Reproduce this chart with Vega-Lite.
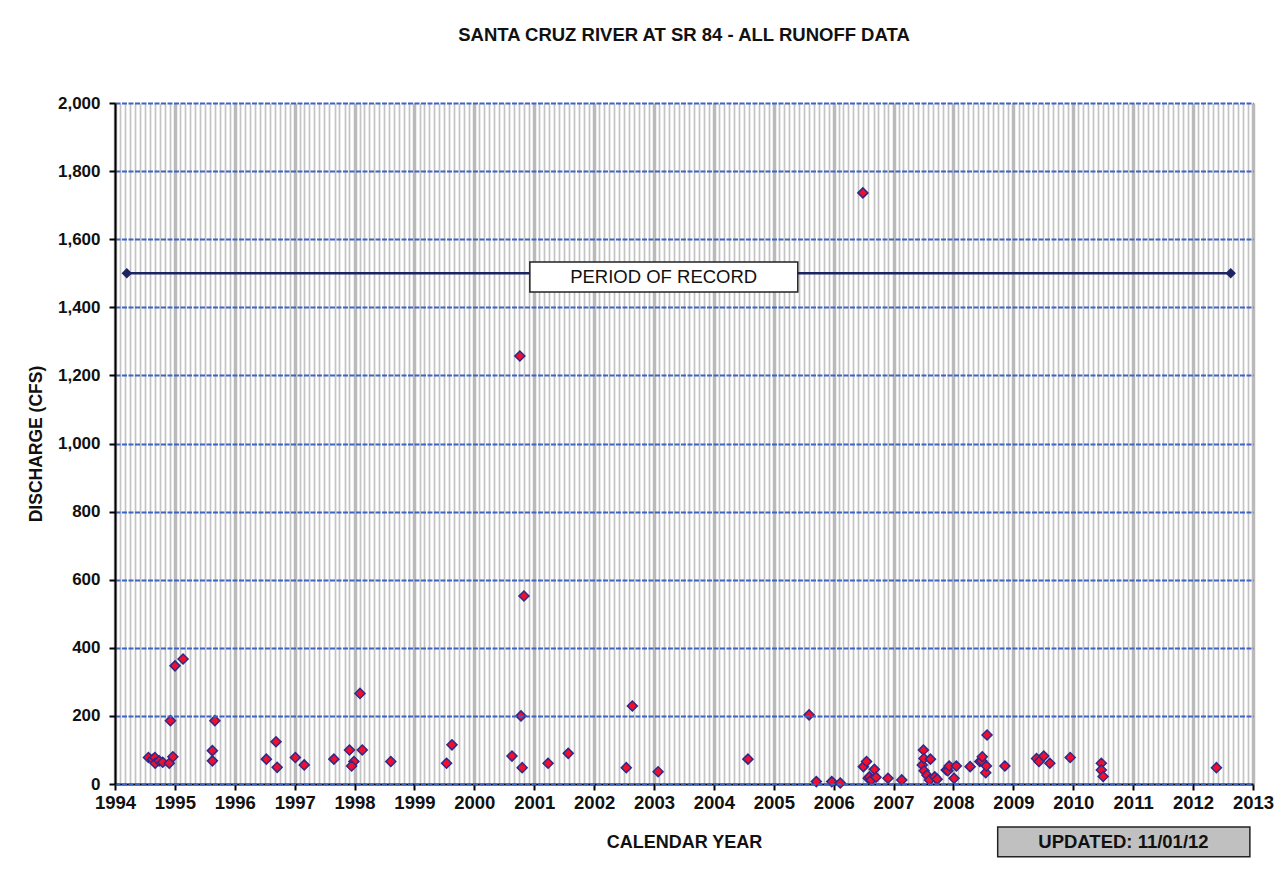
{
  "$schema": "https://vega.github.io/schema/vega-lite/v6.json",
  "width": 1138,
  "height": 681,
  "autosize": {"type": "none"},
  "padding": {"left": 115, "top": 103, "right": 33, "bottom": 93},
  "background": "white",
  "config": {
    "view": {"stroke": null},
    "font": "Liberation Sans"
  },
  "title": {
    "text": "SANTA CRUZ RIVER AT SR 84 - ALL RUNOFF DATA",
    "font": "Liberation Sans",
    "fontSize": 18.5,
    "fontWeight": "bold",
    "color": "#111111",
    "anchor": "middle",
    "offset": 50
  },
  "datasets": {
    "runoff": [
      {"date": "1994-07-24", "cfs": 78},
      {"date": "1994-08-18", "cfs": 72},
      {"date": "1994-09-01", "cfs": 78},
      {"date": "1994-09-03", "cfs": 61},
      {"date": "1994-09-27", "cfs": 68},
      {"date": "1994-10-19", "cfs": 64},
      {"date": "1994-11-28", "cfs": 61},
      {"date": "1994-12-20", "cfs": 80},
      {"date": "1994-12-05", "cfs": 186},
      {"date": "1995-01-02", "cfs": 347},
      {"date": "1995-02-20", "cfs": 367},
      {"date": "1995-08-18", "cfs": 98},
      {"date": "1995-08-18", "cfs": 68},
      {"date": "1995-09-02", "cfs": 186},
      {"date": "1996-07-12", "cfs": 73},
      {"date": "1996-09-09", "cfs": 124},
      {"date": "1996-09-16", "cfs": 49},
      {"date": "1997-01-05", "cfs": 78},
      {"date": "1997-02-28", "cfs": 56},
      {"date": "1997-08-28", "cfs": 73},
      {"date": "1997-12-01", "cfs": 100},
      {"date": "1997-12-28", "cfs": 66},
      {"date": "1997-12-14", "cfs": 53},
      {"date": "1998-02-17", "cfs": 100},
      {"date": "1998-02-03", "cfs": 266},
      {"date": "1998-08-10", "cfs": 66},
      {"date": "1999-07-16", "cfs": 61},
      {"date": "1999-08-18", "cfs": 115},
      {"date": "2000-08-18", "cfs": 82},
      {"date": "2000-10-12", "cfs": 200},
      {"date": "2000-10-05", "cfs": 1257},
      {"date": "2000-10-19", "cfs": 48},
      {"date": "2000-10-30", "cfs": 552},
      {"date": "2001-03-26", "cfs": 61},
      {"date": "2001-07-27", "cfs": 90},
      {"date": "2002-07-16", "cfs": 48},
      {"date": "2002-08-22", "cfs": 229},
      {"date": "2003-01-26", "cfs": 36},
      {"date": "2004-07-27", "cfs": 73},
      {"date": "2005-08-04", "cfs": 203},
      {"date": "2005-09-17", "cfs": 7},
      {"date": "2005-12-20", "cfs": 7},
      {"date": "2006-02-10", "cfs": 3},
      {"date": "2006-06-28", "cfs": 1736},
      {"date": "2006-07-01", "cfs": 51},
      {"date": "2006-07-20", "cfs": 66},
      {"date": "2006-07-30", "cfs": 17},
      {"date": "2006-08-07", "cfs": 21},
      {"date": "2006-08-18", "cfs": 12},
      {"date": "2006-09-06", "cfs": 43},
      {"date": "2006-09-16", "cfs": 20},
      {"date": "2006-11-28", "cfs": 17},
      {"date": "2007-02-20", "cfs": 12},
      {"date": "2007-06-25", "cfs": 56},
      {"date": "2007-07-02", "cfs": 100},
      {"date": "2007-07-05", "cfs": 75},
      {"date": "2007-07-06", "cfs": 39},
      {"date": "2007-07-24", "cfs": 26},
      {"date": "2007-08-08", "cfs": 12},
      {"date": "2007-08-14", "cfs": 73},
      {"date": "2007-09-09", "cfs": 21},
      {"date": "2007-09-24", "cfs": 14},
      {"date": "2007-11-18", "cfs": 41},
      {"date": "2007-11-28", "cfs": 39},
      {"date": "2007-12-06", "cfs": 53},
      {"date": "2008-01-05", "cfs": 17},
      {"date": "2008-01-19", "cfs": 53},
      {"date": "2008-04-12", "cfs": 51},
      {"date": "2008-06-10", "cfs": 66},
      {"date": "2008-06-21", "cfs": 68},
      {"date": "2008-06-25", "cfs": 80},
      {"date": "2008-07-16", "cfs": 33},
      {"date": "2008-07-20", "cfs": 53},
      {"date": "2008-07-24", "cfs": 144},
      {"date": "2008-11-10", "cfs": 53},
      {"date": "2009-05-22", "cfs": 75},
      {"date": "2009-06-06", "cfs": 66},
      {"date": "2009-07-05", "cfs": 82},
      {"date": "2009-08-11", "cfs": 61},
      {"date": "2009-12-13", "cfs": 78},
      {"date": "2010-06-21", "cfs": 61},
      {"date": "2010-06-21", "cfs": 41},
      {"date": "2010-07-02", "cfs": 22},
      {"date": "2012-05-23", "cfs": 48}
    ],
    "period": [
      {"date": "1994-03-14", "cfs": 1500},
      {"date": "2012-08-18", "cfs": 1500}
    ],
    "notes": [
      {"start": "2000-12-05", "end": "2005-05-27", "low": 1445, "high": 1533, "mid": "2003-03-01", "midv": 1489, "label": "PERIOD OF RECORD", "kind": "period"},
      {"start": "2008-09-27", "end": "2012-12-13", "low": -214, "high": -126, "mid": "2010-11-03", "midv": -170, "label": "UPDATED:  11/01/12", "kind": "updated"}
    ]
  },
  "resolve": {"axis": {"x": "independent"}},
  "layer": [
    {
      "data": {"name": "period"},
      "mark": {"type": "line", "color": "#1c2462", "strokeWidth": 2.5},
      "encoding": {
        "x": {
          "field": "date", "type": "temporal",
          "scale": {"type": "utc", "domain": [{"year": 1994, "month": 1, "date": 1, "utc": true}, {"year": 2013, "month": 1, "date": 1, "utc": true}]},
          "axis": {
            "orient": "top", "grid": true, "gridColor": "#c4c4c4", "gridWidth": 1.7,
            "tickCount": {"interval": "month", "step": 1},
            "labels": false, "ticks": false, "domain": false, "title": null, "zindex": 0
          }
        },
        "y": {
          "field": "cfs", "type": "quantitative",
          "scale": {"domain": [0, 2000], "nice": false, "zero": true},
          "axis": {
            "values": [0, 200, 400, 600, 800, 1000, 1200, 1400, 1600, 1800, 2000],
            "format": ",.0f",
            "grid": true, "gridColor": "#3f63c0", "gridWidth": 2, "gridDash": [5, 1.5],
            "domainColor": "#000000", "domainWidth": 2,
            "tickColor": "#000000", "tickWidth": 2, "tickSize": 6,
            "labelFont": "Liberation Sans", "labelFontSize": 17, "labelFontWeight": "bold", "labelColor": "#111111",
            "labelPadding": 9,
            "title": "DISCHARGE (CFS)",
            "titleFont": "Liberation Sans", "titleFontSize": 17.5, "titleFontWeight": "bold", "titleColor": "#111111",
            "titlePadding": 12, "zindex": 1
          }
        }
      }
    },
    {
      "data": {"name": "period"},
      "mark": {"type": "point", "shape": "diamond", "filled": true, "color": "#1c2462", "size": 110, "opacity": 1},
      "encoding": {
        "x": {"field": "date", "type": "temporal", "scale": {"type": "utc"},
          "axis": {
            "orient": "bottom", "grid": true, "gridColor": "#bababa", "gridWidth": 3.5,
            "tickCount": {"interval": "year", "step": 1},
            "format": "%Y", "formatType": "utc",
            "domainColor": "#000000", "domainWidth": 2,
            "tickColor": "#000000", "tickWidth": 2, "tickSize": 6,
            "labelFont": "Liberation Sans", "labelFontSize": 18.5, "labelFontWeight": "bold", "labelColor": "#111111",
            "labelPadding": 3, "labelOverlap": false, "labelFlush": false,
            "title": "CALENDAR YEAR",
            "titleFont": "Liberation Sans", "titleFontSize": 18, "titleFontWeight": "bold", "titleColor": "#111111",
            "titlePadding": 22, "zindex": 0
          }
        },
        "y": {"field": "cfs", "type": "quantitative"}
      }
    },
    {
      "data": {"name": "notes"},
      "mark": {"type": "rect", "stroke": "#222222", "strokeWidth": 1.5},
      "encoding": {
        "x": {"field": "start", "type": "temporal", "scale": {"type": "utc"}, "axis": null},
        "x2": {"field": "end"},
        "y": {"field": "low", "type": "quantitative"},
        "y2": {"field": "high"},
        "fill": {"field": "kind", "type": "nominal", "scale": {"domain": ["period", "updated"], "range": ["#ffffff", "#c0c0c0"]}, "legend": null}
      }
    },
    {
      "data": {"name": "notes"},
      "transform": [{"filter": "datum.kind === 'period'"}],
      "mark": {"type": "text", "font": "Liberation Sans", "fontSize": 18.5, "fontWeight": "normal", "color": "#111111", "align": "center", "baseline": "middle"},
      "encoding": {
        "x": {"field": "mid", "type": "temporal", "scale": {"type": "utc"}, "axis": null},
        "y": {"field": "midv", "type": "quantitative"},
        "text": {"field": "label"}
      }
    },
    {
      "data": {"name": "notes"},
      "transform": [{"filter": "datum.kind === 'updated'"}],
      "mark": {"type": "text", "font": "Liberation Sans", "fontSize": 18.5, "fontWeight": "bold", "color": "#111111", "align": "center", "baseline": "middle"},
      "encoding": {
        "x": {"field": "mid", "type": "temporal", "scale": {"type": "utc"}, "axis": null},
        "y": {"field": "midv", "type": "quantitative"},
        "text": {"field": "label"}
      }
    },
    {
      "data": {"name": "runoff"},
      "mark": {"type": "point", "shape": "diamond", "filled": true, "fill": "#f0102e", "stroke": "#2e2a8a", "strokeWidth": 1.5, "size": 100, "opacity": 1},
      "encoding": {
        "x": {"field": "date", "type": "temporal", "scale": {"type": "utc"}, "axis": null},
        "y": {"field": "cfs", "type": "quantitative"}
      }
    }
  ]
}
